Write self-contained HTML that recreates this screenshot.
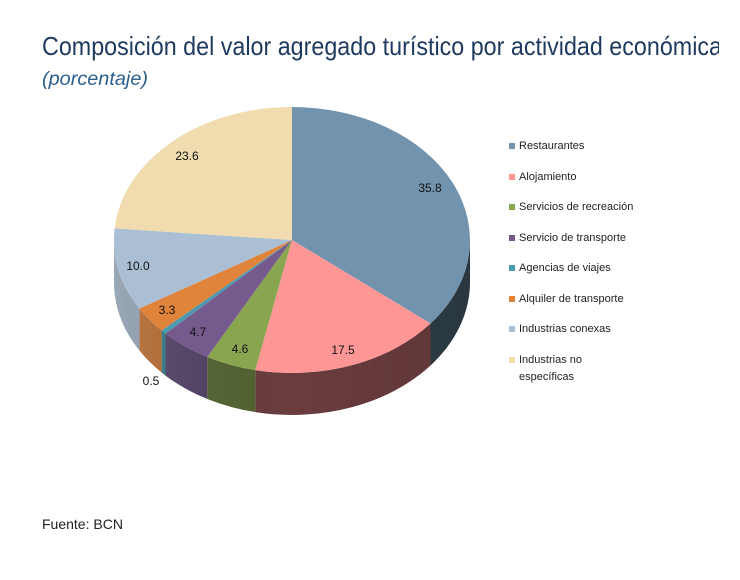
<!DOCTYPE html>
<html><head><meta charset="utf-8"><style>
html,body{margin:0;padding:0;background:#fff;}
svg{display:block;}
text{font-family:"Liberation Sans",sans-serif;}
</style></head><body>
<svg width="740" height="580" viewBox="0 0 740 580" xmlns="http://www.w3.org/2000/svg">
<defs>
<clipPath id="cp"><rect x="0" y="0" width="719" height="580"/></clipPath>
<linearGradient id="sh" x1="0" y1="0" x2="1" y2="0">
<stop offset="0" stop-color="#fff" stop-opacity="0.15"/>
<stop offset="0.5" stop-color="#000" stop-opacity="0"/>
<stop offset="1" stop-color="#000" stop-opacity="0.1"/>
</linearGradient>
</defs>
<g clip-path="url(#cp)">
<text x="42" y="55" font-size="26" fill="#1f3a5f" textLength="680" lengthAdjust="spacingAndGlyphs">Composición del valor agregado turístico por actividad económica</text>
</g>
<text x="42" y="85" font-size="19" font-style="italic" fill="#2a5f8f" textLength="106" lengthAdjust="spacingAndGlyphs">(porcentaje)</text>

<!-- sides -->
<path d="M470,240 A178,133 0 0,1 430.5,323.5 L430.5,365.5 A178,133 0 0,0 470,282 Z" fill="#2e3d48"/>
<path d="M430.5,323.5 A178,133 0 0,1 255.3,370.1 L255.3,412.1 A178,133 0 0,0 430.5,365.5 Z" fill="#6a3c3e"/>
<path d="M255.3,370.1 A178,133 0 0,1 207.3,357 L207.3,399 A178,133 0 0,0 255.3,412.1 Z" fill="#526330"/>
<path d="M207.3,357 A178,133 0 0,1 165.5,333.6 L165.5,375.6 A178,133 0 0,0 207.3,399 Z" fill="#4f3e63"/>
<path d="M165.5,333.6 A178,133 0 0,1 161.6,330.5 L161.6,372.5 A178,133 0 0,0 165.5,375.6 Z" fill="#2a7585"/>
<path d="M161.6,330.5 A178,133 0 0,1 139.4,308.5 L139.4,350.5 A178,133 0 0,0 161.6,372.5 Z" fill="#b0652a"/>
<path d="M139.4,308.5 A178,133 0 0,1 114,240 L114,282 A178,133 0 0,0 139.4,350.5 Z" fill="#8899aa"/>
<path d="M470,240 A178,133 0 0,1 114,240 L114,282 A178,133 0 0,0 470,282 Z" fill="url(#sh)"/>

<!-- top -->
<path d="M292,240 L292,107 A178,133 0 0,1 430.5,323.5 Z" fill="#7193ae"/>
<path d="M292,240 L430.5,323.5 A178,133 0 0,1 255.3,370.1 Z" fill="#fe9696"/>
<path d="M292,240 L255.3,370.1 A178,133 0 0,1 207.3,357 Z" fill="#8aa54f"/>
<path d="M292,240 L207.3,357 A178,133 0 0,1 165.5,333.6 Z" fill="#765a8d"/>
<path d="M292,240 L165.5,333.6 A178,133 0 0,1 161.6,330.5 Z" fill="#4a9bb0"/>
<path d="M292,240 L161.6,330.5 A178,133 0 0,1 139.4,308.5 Z" fill="#e0843c"/>
<path d="M292,240 L139.4,308.5 A178,133 0 0,1 114.7,228.4 Z" fill="#aabfd4"/>
<path d="M292,240 L114.7,228.4 A178,133 0 0,1 292,107 Z" fill="#f0dcae"/>

<g font-size="12" fill="#111" text-anchor="middle" dominant-baseline="central">
<text x="430" y="188">35.8</text>
<text x="343" y="350">17.5</text>
<text x="240" y="349">4.6</text>
<text x="198" y="332">4.7</text>
<text x="167" y="310">3.3</text>
<text x="138" y="266">10.0</text>
<text x="187" y="156">23.6</text>
<text x="151" y="381">0.5</text>
</g>

<g font-size="11" fill="#222" dominant-baseline="central">
<rect x="509" y="143" width="6" height="6" fill="#7193ae"/><text x="519" y="146">Restaurantes</text>
<rect x="509" y="174" width="6" height="6" fill="#fe9696"/><text x="519" y="177">Alojamiento</text>
<rect x="509" y="204" width="6" height="6" fill="#8aa54f"/><text x="519" y="207">Servicios de recreación</text>
<rect x="509" y="235" width="6" height="6" fill="#765a8d"/><text x="519" y="238">Servicio de transporte</text>
<rect x="509" y="265" width="6" height="6" fill="#4a9bb0"/><text x="519" y="268">Agencias de viajes</text>
<rect x="509" y="296" width="6" height="6" fill="#e0843c"/><text x="519" y="299">Alquiler de transporte</text>
<rect x="509" y="326" width="6" height="6" fill="#aabfd4"/><text x="519" y="329">Industrias conexas</text>
<rect x="509" y="357" width="6" height="6" fill="#f0dcae"/><text x="519" y="360">Industrias no</text>
<text x="519" y="377">específicas</text>
</g>

<text x="42" y="529" font-size="14" fill="#222">Fuente: BCN</text>
</svg>
</body></html>
